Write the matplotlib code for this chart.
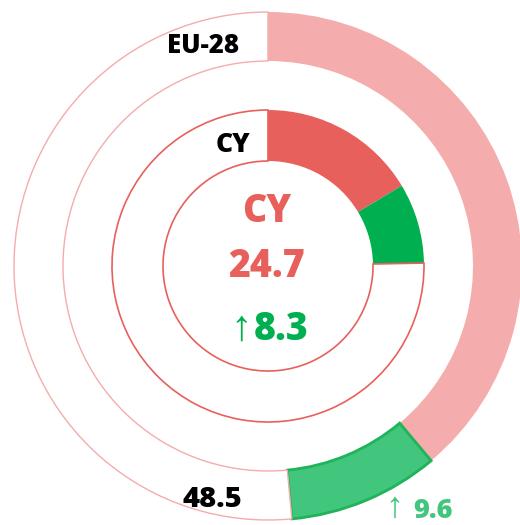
import matplotlib
matplotlib.use("Agg")
import matplotlib.pyplot as plt

# Data
outer_label = "EU-28"
outer_total = 48.5
outer_change = 9.6
inner_label = "CY"
inner_total = 24.7
inner_change = 8.3

PINK = "#F4ACAC"
RED = "#E8605C"
GREEN_IN = "#00B050"
GREEN_OUT = "#42C57C"
GREEN_EDGE = "#1FB35A"

plt.rcParams['font.family'] = ['Open Sans', 'DejaVu Sans']
ARROW_FONT = ['Liberation Sans', 'DejaVu Sans']

fig = plt.figure(figsize=(5.2, 5.25), dpi=100)
ax = fig.add_axes([0, 0, 1, 1])

cx, cy = 268, 525 - 266

# Outer ring
outer_vals = [outer_total - outer_change, outer_change, 100 - outer_total]
w, _ = ax.pie(outer_vals, colors=[PINK, GREEN_OUT, "white"], startangle=90,
              counterclock=False, radius=254, center=(cx, cy),
              wedgeprops=dict(width=49, linewidth=0))
w[2].set_edgecolor(PINK); w[2].set_linewidth(1.0)
w[1].set_edgecolor(GREEN_EDGE); w[1].set_linewidth(2.0)

# Inner ring
inner_vals = [inner_total - inner_change, inner_change, 100 - inner_total]
w2, _ = ax.pie(inner_vals, colors=[RED, GREEN_IN, "white"], startangle=90,
               counterclock=False, radius=156, center=(cx, cy),
               wedgeprops=dict(width=51, linewidth=0))
w2[2].set_edgecolor(RED); w2[2].set_linewidth(1.2)

ax.set_xlim(0, 520)
ax.set_ylim(0, 525)
ax.set_aspect('equal')
ax.axis('off')

def Y(y):
    return 525 - y

W = 'heavy'
ax.text(239, Y(53), outer_label, ha='right', va='baseline', fontsize=18.5,
        fontweight=W, color='black')
ax.text(250, Y(152), inner_label, ha='right', va='baseline', fontsize=19,
        fontweight=W, color='black')

ax.text(267, Y(222), inner_label, ha='center', va='baseline', fontsize=27,
        fontweight=W, color=RED)
ax.text(267, Y(277), f"{inner_total}", ha='center', va='baseline', fontsize=27,
        fontweight=W, color=RED)
ax.text(241, Y(340), "↑", ha='center', va='baseline', fontsize=31,
        color=GREEN_IN, family=ARROW_FONT)
ax.text(254, Y(340), f"{inner_change}", ha='left', va='baseline', fontsize=27,
        fontweight=W, color=GREEN_IN)

ax.text(212, Y(507), f"{outer_total}", ha='center', va='baseline', fontsize=21,
        fontweight=W, color='black')
ax.text(394.5, Y(517), "↑", ha='center', va='baseline', fontsize=26,
        color=GREEN_OUT, family=ARROW_FONT)
ax.text(413, Y(518), f"{outer_change}", ha='left', va='baseline', fontsize=19.5,
        fontweight=W, color=GREEN_OUT)

fig.savefig("out.png", dpi=100)
